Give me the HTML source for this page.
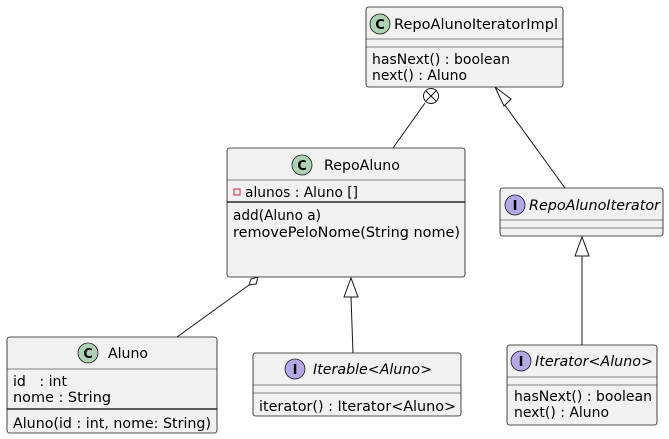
<!DOCTYPE html>
<html><head><meta charset="utf-8"><style>
html,body{margin:0;padding:0;background:#fff;}
svg{display:block;font-family:"DejaVu Sans","Liberation Sans",sans-serif;}
</style></head><body>
<svg width="669" height="439" viewBox="0 0 669 439" xmlns="http://www.w3.org/2000/svg">
<g stroke="#181818" stroke-width="1" fill="none">
<line x1="425" y1="103" x2="393" y2="148"/>
<circle cx="431" cy="96" r="7.5" fill="#fff"/>
<line x1="426" y1="91" x2="436" y2="101"/><line x1="436" y1="91" x2="426" y2="101"/>
<line x1="504" y1="104" x2="565" y2="188"/>
<polygon points="495,87 504,106 511,99" fill="#fff"/>
<line x1="582" y1="256" x2="582" y2="345"/>
<polygon points="582,237 575,256 589,256" fill="#fff"/>
<line x1="249" y1="285" x2="177" y2="337"/>
<polygon points="258,277 256,284 249,285 251,279" fill="#fff"/>
<line x1="351" y1="297" x2="353" y2="353"/>
<polygon points="351,278 344,297 358,297" fill="#fff"/>
</g>
<g stroke="#181818" stroke-width="0.8" fill="#f1f1f1">
<rect x="366" y="7" width="197" height="80" rx="2.5"/>
<rect x="227" y="148" width="238" height="129" rx="2.5"/>
<rect x="500" y="188" width="163" height="48" rx="2.5"/>
<rect x="7" y="337" width="210" height="96" rx="2.5"/>
<rect x="253" y="353" width="208" height="63" rx="2.5"/>
<rect x="507" y="345" width="150" height="80" rx="2.5"/>
</g>
<g stroke="#181818" stroke-width="0.6">
<line x1="366" y1="39" x2="563" y2="39"/><line x1="366" y1="47" x2="563" y2="47"/>
<line x1="227" y1="180" x2="465" y2="180"/>
<line x1="500" y1="220" x2="663" y2="220"/><line x1="500" y1="228" x2="663" y2="228"/>
<line x1="7" y1="369" x2="217" y2="369"/>
<line x1="253" y1="385" x2="461" y2="385"/><line x1="253" y1="393" x2="461" y2="393"/>
<line x1="507" y1="377" x2="657" y2="377"/><line x1="507" y1="385" x2="657" y2="385"/>
</g>
<g stroke="#000" stroke-width="1.2">
<line x1="227" y1="202" x2="465" y2="202"/>
<line x1="7" y1="409" x2="217" y2="409"/>
</g>
<g stroke="#181818" stroke-width="0.8">
<circle cx="380" cy="24" r="10" fill="#add1b2"/>
<circle cx="302" cy="165" r="10" fill="#add1b2"/>
<circle cx="88" cy="353" r="10" fill="#add1b2"/>
<circle cx="515" cy="205" r="10" fill="#b4a7e5"/>
<circle cx="295" cy="369" r="10" fill="#b4a7e5"/>
<circle cx="521" cy="361" r="10" fill="#b4a7e5"/>
</g>
<g font-size="13" font-weight="bold" text-anchor="middle" fill="#000">
<text x="380" y="29">C</text><text x="302" y="170">C</text><text x="88" y="358">C</text>
<text x="515" y="210">I</text><text x="295" y="374">I</text><text x="521" y="366">I</text>
</g>
<rect x="234" y="189" width="6" height="6" fill="none" stroke="#c82930" stroke-width="1"/>
<g font-size="14" fill="#000">
<text x="394" y="29" textLength="164" lengthAdjust="spacingAndGlyphs">RepoAlunoIteratorImpl</text>
<text x="324" y="170" textLength="76" lengthAdjust="spacingAndGlyphs">RepoAluno</text>
<text x="529" y="210" font-style="italic" textLength="131" lengthAdjust="spacingAndGlyphs">RepoAlunoIterator</text>
<text x="108" y="358" textLength="40" lengthAdjust="spacingAndGlyphs">Aluno</text>
<text x="313" y="374" font-style="italic" textLength="119" lengthAdjust="spacingAndGlyphs">Iterable&lt;Aluno&gt;</text>
<text x="535" y="366" font-style="italic" textLength="118" lengthAdjust="spacingAndGlyphs">Iterator&lt;Aluno&gt;</text>
<text x="372" y="64" textLength="138" lengthAdjust="spacingAndGlyphs">hasNext() : boolean</text>
<text x="372" y="80" textLength="95" lengthAdjust="spacingAndGlyphs">next() : Aluno</text>
<text x="245" y="197" textLength="113" lengthAdjust="spacingAndGlyphs">alunos : Aluno []</text>
<text x="233" y="220" textLength="88" lengthAdjust="spacingAndGlyphs">add(Aluno a)</text>
<text x="233" y="237" textLength="227" lengthAdjust="spacingAndGlyphs">removePeloNome(String nome)</text>
<text x="13" y="386" xml:space="preserve" textLength="54" lengthAdjust="spacingAndGlyphs">id   : int</text>
<text x="13" y="402" textLength="98" lengthAdjust="spacingAndGlyphs">nome : String</text>
<text x="13" y="428" textLength="198" lengthAdjust="spacingAndGlyphs">Aluno(id : int, nome: String)</text>
<text x="259" y="411" textLength="197" lengthAdjust="spacingAndGlyphs">iterator() : Iterator&lt;Aluno&gt;</text>
<text x="514" y="401" textLength="138" lengthAdjust="spacingAndGlyphs">hasNext() : boolean</text>
<text x="514" y="417" textLength="95" lengthAdjust="spacingAndGlyphs">next() : Aluno</text>
</g>
</svg>
</body></html>
